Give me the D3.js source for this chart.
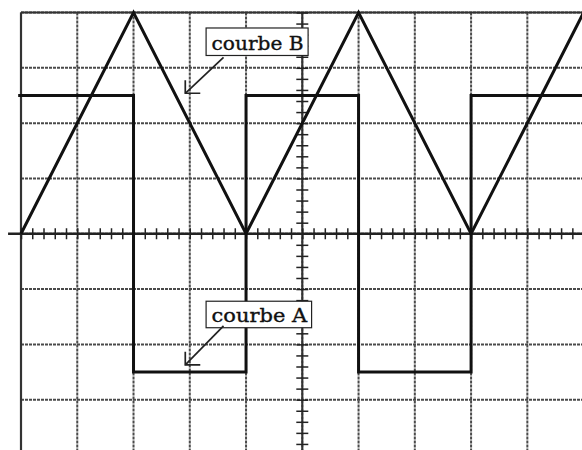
<!DOCTYPE html>
<html>
<head>
<meta charset="utf-8">
<script src="https://cdn.jsdelivr.net/npm/d3@7"></script>
<style>
  html, body { margin: 0; padding: 0; background: #fff; }
  svg { display: block; }
  .grid line { stroke: #4a4a4a; stroke-width: 2; stroke-dasharray: 3,1; }
  .ticks line { stroke: #222; stroke-width: 1.5; }
  .trace { fill: none; stroke: #111; stroke-width: 3; stroke-linejoin: miter; }
  .lbl rect { fill: #fff; stroke: #222; stroke-width: 1.2; }
  .lbl text { font-family: "DejaVu Serif", serif; font-size: 18px; fill: #111; stroke: #111; stroke-width: 0.35; }
  .arrow { fill: none; stroke: #222; stroke-width: 1.7; }
</style>
</head>
<body>
<div id="scope"></div>
<script>
// screen divisions of the oscilloscope
var gridX = [0, 1, 2, 3, 4, 5, 6, 7, 8, 9, 10];
var gridY = [-4, -3, -2, -1, 0, 1, 2, 3, 4];

// courbe B : triangle wave (x in div, y in div)
var courbeB = [[0, 0], [2, 4], [4, 0], [6, 4], [8, 0], [10, 4]];

// courbe A : square wave
var courbeA = [[-0.05, 2.5], [2, 2.5], [2, -2.5], [4, -2.5], [4, 2.5], [6, 2.5],
               [6, -2.5], [8, -2.5], [8, 2.5], [10, 2.5]];

var labels = ["courbe B", "courbe A"];

var width = 582, height = 450;

var svg = d3.select("#scope").append("svg")
    .attr("width", width)
    .attr("height", height);

var x = d3.scaleLinear().domain([0, 10]).range([21, 583.6]);
var y = d3.scaleLinear().domain([-4, 4]).range([455, 12.5]);

// grid
var grid = svg.append("g").attr("class", "grid");
grid.selectAll(".gv")
    .data(gridX)
    .enter().append("line")
    .attr("class", "gv")
    .attr("x1", function(d) { return x(d); })
    .attr("x2", function(d) { return x(d); })
    .attr("y1", y(4))
    .attr("y2", y(-4));
grid.selectAll(".gh")
    .data(gridY)
    .enter().append("line")
    .attr("class", "gh")
    .attr("x1", x(0))
    .attr("x2", x(10))
    .attr("y1", function(d) { return y(d); })
    .attr("y2", function(d) { return y(d); });

// frame edges and central axes are solid
svg.append("line").attr("x1", x(0)).attr("x2", x(10)).attr("y1", y(4)).attr("y2", y(4))
    .attr("stroke", "#333").attr("stroke-width", 2.2);
svg.append("line").attr("x1", x(0)).attr("x2", x(0)).attr("y1", y(4)).attr("y2", y(-4))
    .attr("stroke", "#333").attr("stroke-width", 2.2);
svg.append("line").attr("x1", x(-0.23)).attr("x2", x(10)).attr("y1", y(0)).attr("y2", y(0))
    .attr("stroke", "#222").attr("stroke-width", 2.4);
svg.append("line").attr("x1", x(5)).attr("x2", x(5)).attr("y1", y(4)).attr("y2", y(-4))
    .attr("stroke", "#333").attr("stroke-width", 2);

// sub-division ticks (5 per division)
var minorX = d3.range(0, 10.001, 0.2);
var minorY = d3.range(-4, 4.001, 0.2);

svg.append("g")
    .attr("class", "ticks")
    .attr("transform", "translate(0," + (y(0) - 5.5) + ")")
    .call(d3.axisBottom(x).tickValues(minorX).tickSize(11).tickSizeOuter(0).tickFormat(""))
    .call(function(g) { g.select(".domain").remove(); });

svg.append("g")
    .attr("class", "ticks")
    .attr("transform", "translate(" + (x(5) - 6) + ",0)")
    .call(d3.axisRight(y).tickValues(minorY).tickSize(12).tickSizeOuter(0).tickFormat(""))
    .call(function(g) { g.select(".domain").remove(); });

// traces
var line = d3.line()
    .x(function(d) { return x(d[0]); })
    .y(function(d) { return y(d[1]); });

svg.append("path").datum(courbeA).attr("class", "trace").attr("d", line);
svg.append("path").datum(courbeB).attr("class", "trace").attr("d", line);

// labels with arrows
function label(txt, bx, by, bw, bh, from, tip) {
    var g = svg.append("g").attr("class", "lbl");
    g.append("rect")
        .attr("x", bx).attr("y", by)
        .attr("width", bw).attr("height", bh);
    g.append("text")
        .attr("x", bx + 5.5)
        .attr("y", by + bh - 5.5)
        .attr("textLength", bw - 10)
        .attr("lengthAdjust", "spacingAndGlyphs")
        .text(txt);
    svg.append("line").attr("class", "arrow")
        .attr("x1", from[0]).attr("y1", from[1])
        .attr("x2", tip[0]).attr("y2", tip[1]);
    svg.append("path").attr("class", "arrow")
        .attr("stroke-width", 2.4)
        .attr("d", "M" + tip[0] + "," + (tip[1] - 13) + "V" + tip[1] + "H" + (tip[0] + 15));
}

label(labels[0], x(3.29), y(3.72), 102, 27.5, [x(3.6), y(3.19)], [x(2.92), y(2.54)]);
label(labels[1], x(3.29), y(-1.22), 105.5, 26.5, [x(3.6), y(-1.665)], [x(2.92), y(-2.37)]);
</script>
</body>
</html>
